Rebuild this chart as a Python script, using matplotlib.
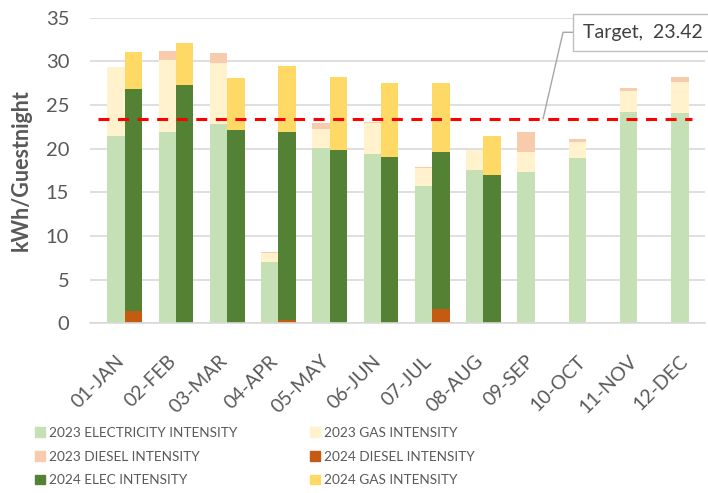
import matplotlib
matplotlib.use('Agg')
import matplotlib.pyplot as plt
import numpy as np
from matplotlib.patches import Patch

months = ['01-JAN', '02-FEB', '03-MAR', '04-APR', '05-MAY', '06-JUN',
          '07-JUL', '08-AUG', '09-SEP', '10-OCT', '11-NOV', '12-DEC']
elec_2023 = [21.4, 21.9, 22.8, 7.0, 20.1, 19.4, 15.7, 17.6, 17.3, 18.9, 24.2, 24.1]
gas_2023 = [8.0, 8.3, 7.0, 1.1, 2.2, 3.5, 2.1, 2.3, 2.3, 1.85, 2.4, 3.5]
diesel_2023 = [0.0, 1.0, 1.1, 0.1, 0.65, 0.2, 0.1, 0.0, 2.3, 0.4, 0.4, 0.6]
diesel_2024 = [1.4, 0.0, 0.0, 0.4, 0.0, 0.0, 1.6, 0.0, None, None, None, None]
elec_2024 = [25.4, 27.3, 22.1, 21.5, 19.9, 19.0, 18.0, 17.0, None, None, None, None]
gas_2024 = [4.3, 4.85, 5.95, 7.6, 8.35, 8.55, 7.9, 4.45, None, None, None, None]
target = 23.42

C_E23, C_G23, C_D23 = '#C5E0B4', '#FFF2CC', '#F8CBAD'
C_D24, C_E24, C_G24 = '#C55A11', '#548235', '#FFD966'
TXT = '#595959'
FONT = 'Lato'

def arr(v):
    return np.array([np.nan if x is None else x for x in v], dtype=float)

fig = plt.figure(figsize=(7.08, 4.93), dpi=100)
W, H = 708, 493
ax = fig.add_axes([90 / W, 1 - 323.3 / H, (705 - 90) / W, (323.3 - 17.7) / H])

x = np.arange(len(months))
bw = 0.34
x23 = x + 0.01
x24 = x + 0.345

e23, g23, d23 = arr(elec_2023), arr(gas_2023), arr(diesel_2023)
ax.bar(x23, e23, bw, color=C_E23, zorder=2)
ax.bar(x23, g23, bw, bottom=e23, color=C_G23, zorder=2)
ax.bar(x23, d23, bw, bottom=e23 + g23, color=C_D23, zorder=2)

d24, e24, g24 = arr(diesel_2024), arr(elec_2024), arr(gas_2024)
ax.bar(x24, d24, bw, color=C_D24, zorder=2)
ax.bar(x24, e24, bw, bottom=np.nan_to_num(d24), color=C_E24, zorder=2)
ax.bar(x24, g24, bw, bottom=np.nan_to_num(d24) + np.nan_to_num(e24), color=C_G24, zorder=2)

ax.hlines(target, -0.35, 11.25, colors='#FF0000', linestyles=(0, (3.6, 2.8)), linewidth=2.2, zorder=3)

ax.set_xlim(-0.5, 11.5)
ax.set_ylim(0, 35)
ax.set_yticks(np.arange(0, 36, 5))
ax.yaxis.grid(True, color='#D9D9D9', linewidth=1.2, zorder=0)
ax.set_axisbelow(True)
for s in ['top', 'right', 'left']:
    ax.spines[s].set_visible(False)
ax.spines['bottom'].set_color('#D9D9D9')
ax.spines['bottom'].set_linewidth(1.2)
ax.tick_params(axis='both', length=0, colors=TXT, labelsize=14.5)
ax.tick_params(axis='y', pad=15)
ax.set_xticks(x)
ax.set_xticklabels(months, rotation=45, ha='right', rotation_mode='anchor', fontfamily=FONT)
ax.tick_params(axis='x', pad=21, labelsize=14)
for lbl in ax.get_yticklabels():
    lbl.set_fontfamily(FONT)
ax.set_ylabel('kWh/Guestnight', fontsize=15.5, fontweight='bold', color=TXT, fontfamily=FONT, labelpad=10)

ax.annotate('Target,  23.42', xy=(8.34, target), xycoords='data',
            xytext=(583, H - 32.3), textcoords='figure pixels',
            ha='left', va='center', fontsize=14, color='#404040', fontfamily=FONT,
            bbox=dict(boxstyle='square,pad=0.5', fc='white', ec='#BFBFBF', lw=1),
            arrowprops=dict(arrowstyle='-', color='#A6A6A6', lw=1,
                            connectionstyle='angle,angleA=0,angleB=77', shrinkA=0, shrinkB=0),
            annotation_clip=False, zorder=5)

h1 = [Patch(color=C_E23, label='2023 ELECTRICITY INTENSITY'),
      Patch(color=C_D23, label='2023 DIESEL INTENSITY'),
      Patch(color=C_E24, label='2024 ELEC INTENSITY')]
h2 = [Patch(color=C_G23, label='2023 GAS INTENSITY'),
      Patch(color=C_D24, label='2024 DIESEL INTENSITY'),
      Patch(color=C_G24, label='2024 GAS INTENSITY')]
common = dict(loc='upper left', frameon=False, handlelength=0.72, handleheight=0.72,
              handletextpad=0.3, labelspacing=0.85, borderpad=0, borderaxespad=0,
              prop=dict(family=FONT, size=9.8), labelcolor=TXT)
fig.legend(handles=h1, bbox_to_anchor=(35 / W, 1 - 427 / H), **common)
fig.legend(handles=h2, bbox_to_anchor=(310 / W, 1 - 427 / H), **common)

fig.savefig('out.png', dpi=100)
